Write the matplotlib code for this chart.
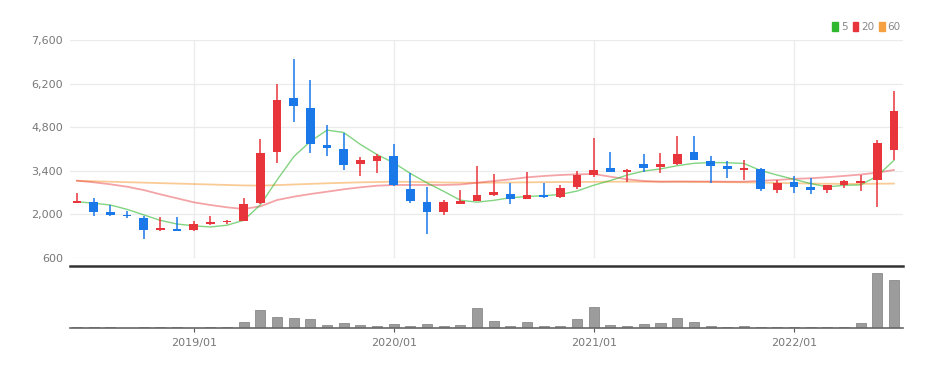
import numpy as np
import pandas as pd
import matplotlib.pyplot as plt
from matplotlib.patches import Patch

# 월봉 데이터 (2018/06 ~ 2022/07)
months = pd.date_range('2018-06-01', periods=50, freq='MS')
opens = [2380, 2410, 2080, 1980, 1890, 1490, 1545, 1505, 1700, 1750,
         1800, 2380, 3990, 5740, 5420, 4230, 4090, 3620, 3730, 3860,
         2830, 2390, 2070, 2350, 2435, 2615, 2655, 2495, 2625, 2550,
         2870, 3265, 3475, 3365, 3605, 3520, 3615, 4000, 3720, 3555,
         3425, 3470, 2770, 3035, 2875, 2790, 2960, 3005, 3110, 4070]
highs = [2700, 2520, 2300, 2100, 1960, 1930, 1930, 1780, 1950, 1830,
         2540, 4410, 6190, 6990, 6320, 4870, 4610, 3840, 3925, 4255,
         3330, 2880, 2450, 2770, 3540, 3295, 3005, 3350, 3005, 2950,
         3400, 4450, 4000, 3450, 3940, 3985, 4505, 4520, 3875, 3700,
         3735, 3480, 3110, 3235, 3170, 2960, 3110, 3265, 4390, 5960]
lows = [2370, 1960, 1960, 1895, 1210, 1480, 1470, 1480, 1660, 1700,
        1800, 2330, 3640, 4970, 3980, 3875, 3410, 3220, 3330, 2920,
        2380, 1370, 1980, 2340, 2420, 2575, 2335, 2490, 2540, 2540,
        2815, 3200, 3355, 3050, 3360, 3330, 3600, 3740, 3005, 3155,
        3090, 2740, 2685, 2685, 2650, 2685, 2835, 2750, 2235, 3750]
closes = [2430, 2070, 1985, 1940, 1500, 1550, 1480, 1700, 1750, 1790,
          2330, 3980, 5670, 5490, 4260, 4130, 3600, 3750, 3860, 2940,
          2420, 2080, 2400, 2435, 2630, 2715, 2490, 2610, 2550, 2845,
          3260, 3425, 3360, 3425, 3490, 3605, 3935, 3745, 3550, 3460,
          3490, 2810, 3005, 2875, 2780, 2950, 3060, 3070, 4290, 5310]
volume = [80, 80, 80, 30, 60, 60, 60, 30, 60, 60,
          600, 1800, 1100, 970, 900, 300, 500, 300, 230, 430,
          230, 430, 230, 300, 1970, 670, 170, 630, 230, 230,
          900, 2130, 270, 230, 400, 470, 970, 600, 230, 100,
          230, 100, 100, 100, 100, 100, 100, 500, 5500, 4770]

# 이동평균선
ma5 = [2410, 2357, 2302, 2163, 1985, 1809, 1691, 1634, 1596, 1654,
       1810, 2310, 3104, 3852, 4346, 4706, 4630, 4246, 3920, 3656,
       3314, 3010, 2740, 2455, 2393, 2452, 2534, 2576, 2599, 2642,
       2751, 2938, 3088, 3263, 3392, 3461, 3563, 3640, 3665, 3659,
       3636, 3411, 3263, 3128, 2992, 2884, 2934, 2947, 3230, 3736]
ma20 = [3082, 3031, 2967, 2889, 2783, 2645, 2517, 2389, 2302, 2228,
        2173, 2260, 2462, 2568, 2655, 2729, 2806, 2870, 2922, 2944,
        2945, 2945, 2945, 2960, 3018, 3072, 3127, 3191, 3233, 3265,
        3288, 3297, 3211, 3127, 3072, 3050, 3055, 3055, 3055, 3050,
        3050, 3080, 3105, 3140, 3160, 3195, 3235, 3280, 3340, 3426]
ma60 = [3080, 3065, 3050, 3035, 3020, 3005, 2990, 2975, 2960, 2945,
        2930, 2925, 2940, 2960, 2980, 3000, 3015, 3030, 3040, 3050,
        3045, 3035, 3025, 3020, 3015, 3020, 3025, 3030, 3035, 3040,
        3040, 3045, 3050, 3050, 3050, 3050, 3050, 3045, 3040, 3035,
        3030, 3020, 3010, 3000, 2990, 2985, 2980, 2980, 2985, 2990]

yticks = [600, 2000, 3400, 4800, 6200, 7600]
xtick_labels = ['2019/01', '2020/01', '2021/01', '2022/01']

RED = '#e8353b'
BLUE = '#1a78e8'
GREEN = '#2fb82f'
ORANGE = '#f5a142'
TICK_FONT = ['Liberation Sans Narrow', 'DejaVu Sans']

x = np.arange(len(months))
o = np.array(opens); c = np.array(closes)
up = c >= o
colors = np.where(up, RED, BLUE)

fig = plt.figure(figsize=(9.51, 3.69), dpi=100)
ax = fig.add_axes([0.0736, 0.3008, 0.876, 0.5908])
axv = fig.add_axes([0.0736, 0.111, 0.876, 0.168], sharex=ax)

# 이동평균선
ax.plot(x, ma60, color=ORANGE, alpha=0.55, lw=1.3, zorder=2)
ax.plot(x, ma20, color=RED, alpha=0.45, lw=1.3, zorder=2)
ax.plot(x, ma5, color=GREEN, alpha=0.6, lw=1.0, zorder=2)

# 캔들
ax.vlines(x, lows, highs, colors=colors, lw=1.1, zorder=3)
body_low = np.minimum(o, c)
body_h = np.maximum(np.abs(c - o), 45)
ax.bar(x, body_h, bottom=body_low, width=0.52, color=colors, zorder=4)

ax.set_ylim(600, 7600)
ax.set_yticks(yticks)
ax.set_yticklabels([f'{v:,}' for v in yticks], family=TICK_FONT, fontsize=8, color='#777777')
ax.tick_params(axis='y', length=0, pad=5)
ax.tick_params(axis='x', length=0, labelbottom=False)
ax.grid(axis='y', color='#ebebeb', lw=0.9)
ax.grid(axis='x', color='#ebebeb', lw=0.9)
for s in ax.spines.values():
    s.set_visible(False)

# 거래량
axv.bar(x, volume, width=0.6, color='#9c9c9c', edgecolor='#8a8a8a', lw=0.6)
axv.set_ylim(0, 6200)
axv.set_xlim(-0.42, 49.55)
tick_pos = [i for i, m in enumerate(months) if m.month == 1]
axv.set_xticks(tick_pos)
axv.set_xticklabels(xtick_labels, family=TICK_FONT, fontsize=8, color='#777777')
axv.tick_params(axis='x', length=3, color='#555555', pad=4)
axv.set_yticks([])
axv.spines['left'].set_visible(False)
axv.spines['right'].set_visible(False)
axv.spines['top'].set_color('#333333')
axv.spines['top'].set_linewidth(1.8)
axv.spines['bottom'].set_color('#666666')
axv.spines['bottom'].set_linewidth(1.2)

handles = [Patch(color=GREEN), Patch(color=RED), Patch(color=ORANGE)]
leg = fig.legend(handles, ['5', '20', '60'], ncol=3, loc='upper right',
                 bbox_to_anchor=(0.957, 0.965), frameon=False,
                 handlelength=0.55, handleheight=0.9, handletextpad=0.25,
                 columnspacing=0.5, prop={'family': TICK_FONT, 'size': 7.5})
for t in leg.get_texts():
    t.set_color('#888888')

fig.savefig('out.png', dpi=100)
